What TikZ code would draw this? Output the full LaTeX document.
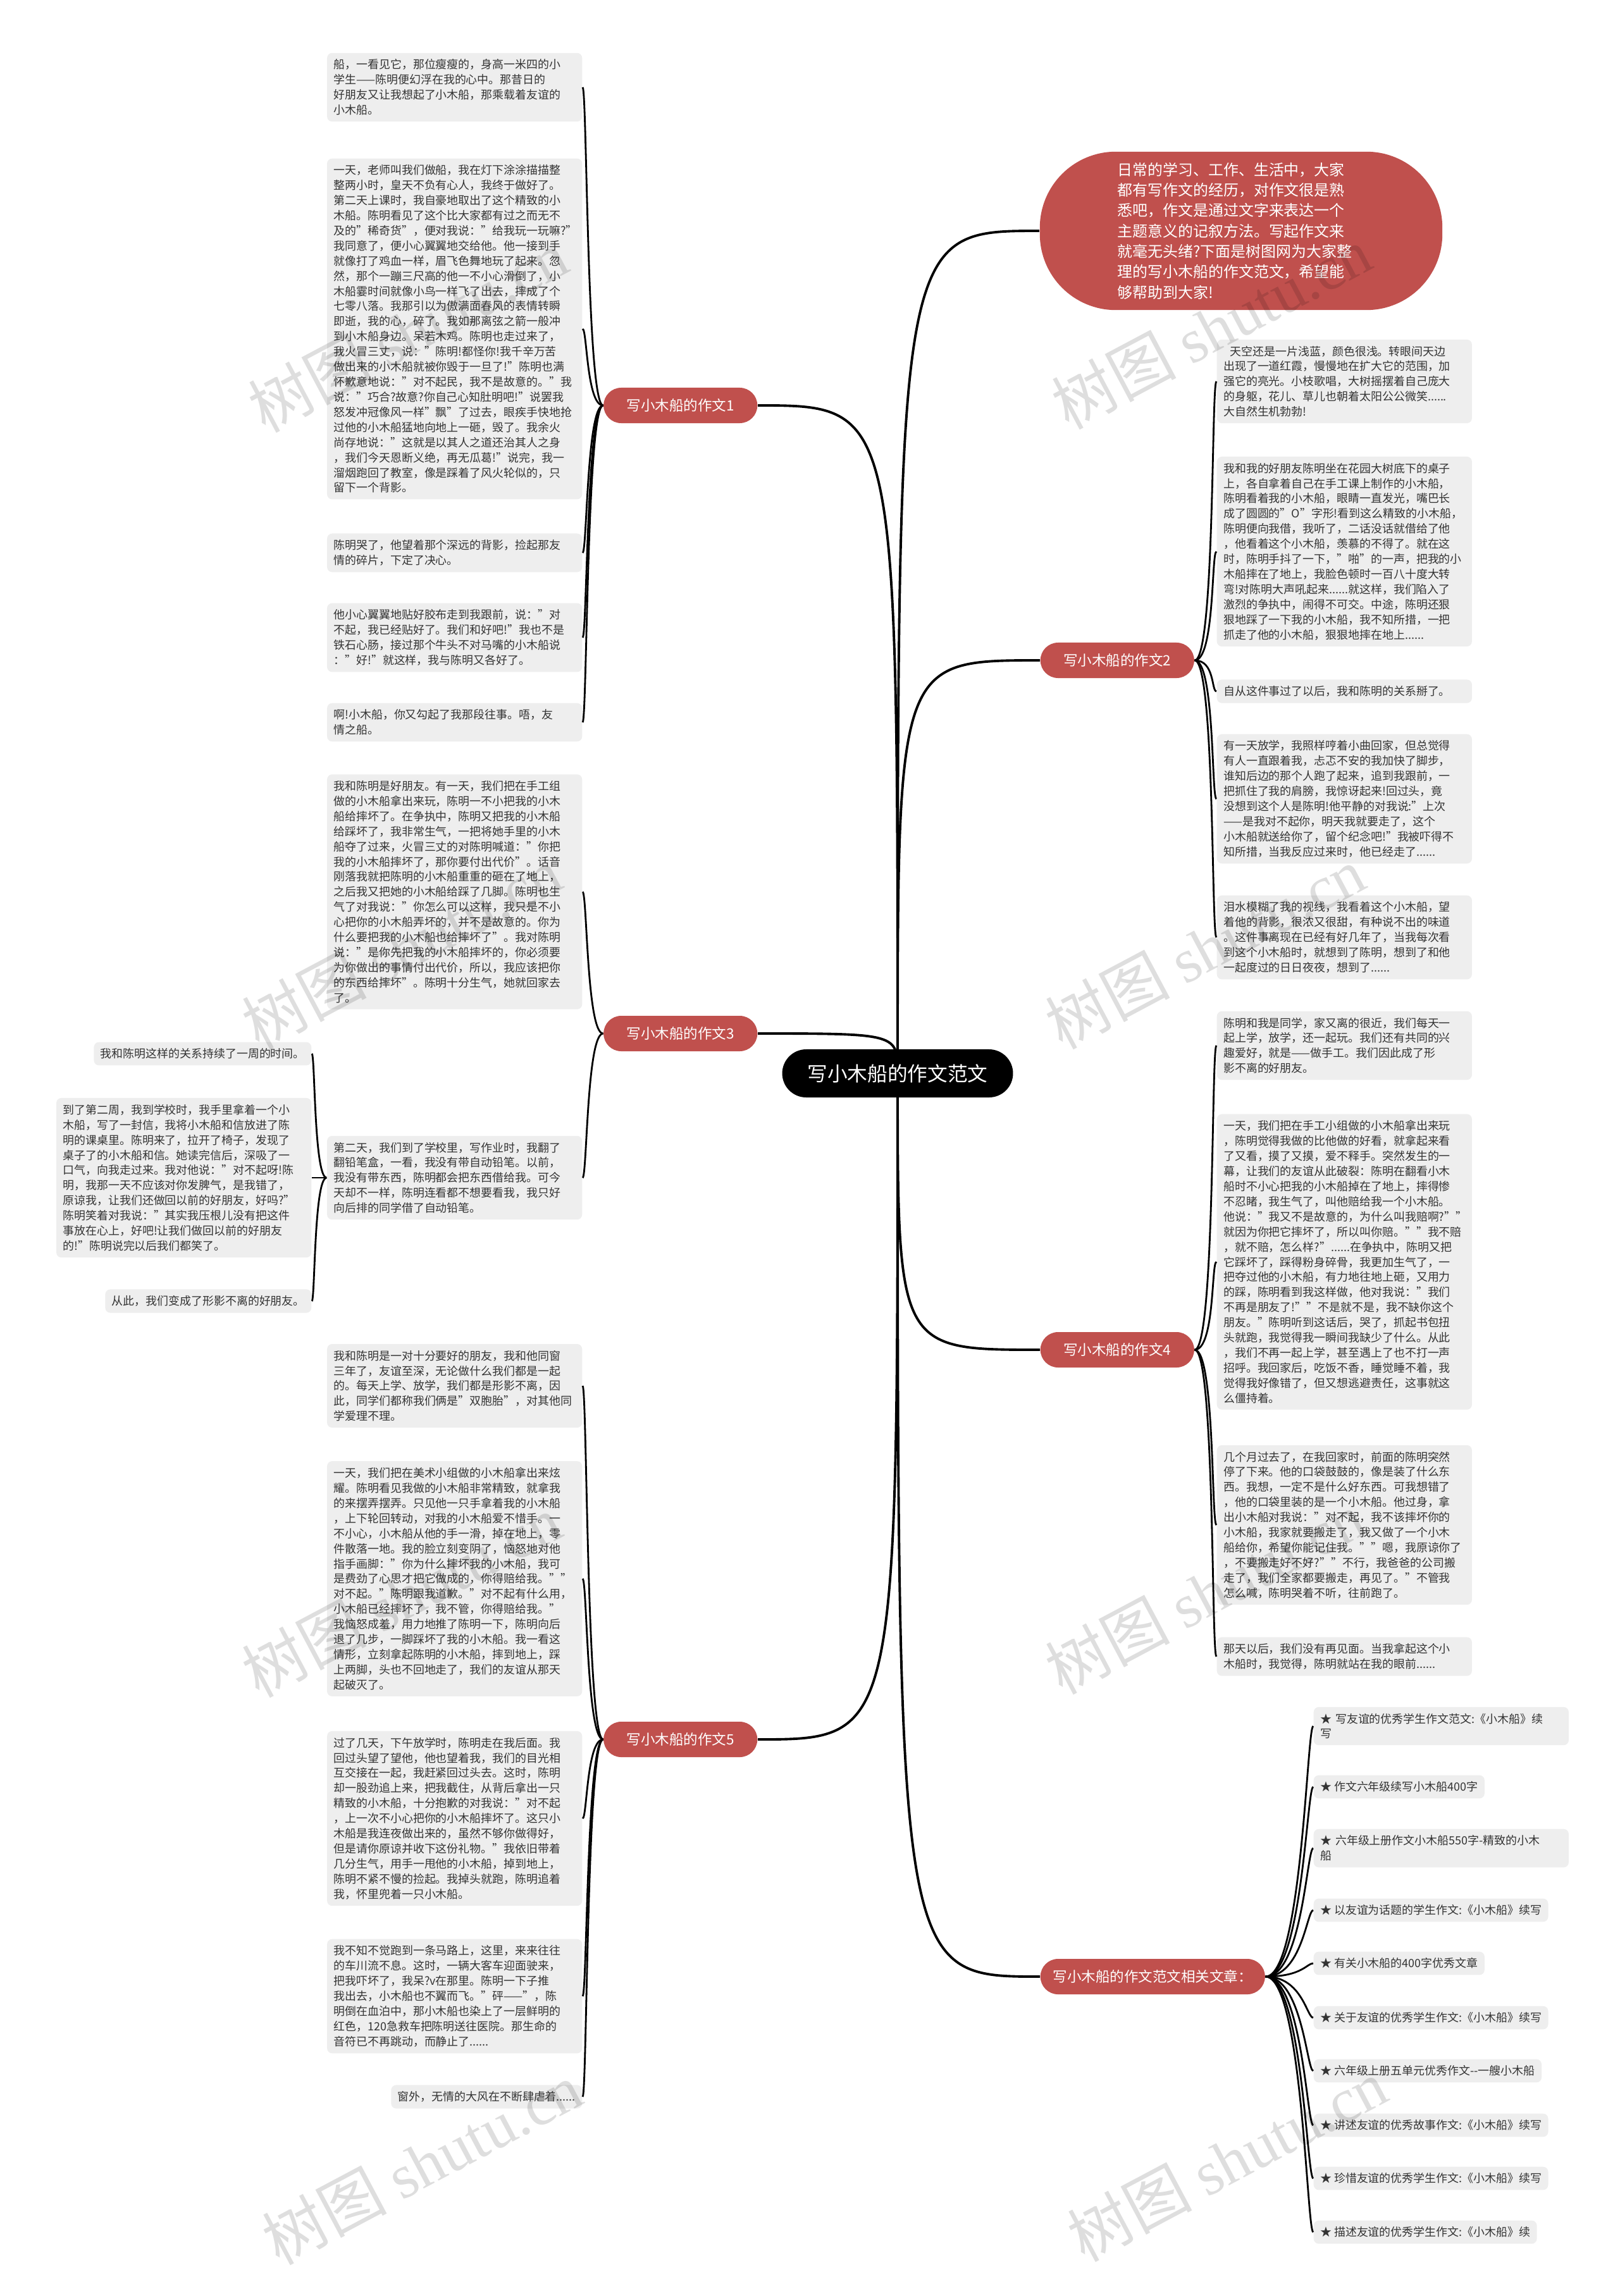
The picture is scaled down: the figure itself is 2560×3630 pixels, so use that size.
\documentclass[tikz,border=0pt]{standalone}
\usepackage{fontspec}
\setmainfont{Noto Sans CJK SC}
\newfontfamily\wmfont{Liberation Serif}
\usetikzlibrary{backgrounds}
\definecolor{topicred}{HTML}{C0504D}
\definecolor{leafgray}{HTML}{EEEEEE}
\definecolor{inkgray}{HTML}{333333}
\setlength{\parindent}{0pt}

\begin{document}
\begin{tikzpicture}[x=0.01cm, y=-0.01cm,
	root/.style={fill=black, text=white, rounded corners=0.38cm, minimum height=0.76cm, inner xsep=0.4cm, font=\fontsize{9pt}{11pt}\selectfont},
	topic/.style={fill=topicred, text=white, rounded corners=0.28cm, minimum height=0.56cm, minimum width=2.43cm, inner xsep=0.2cm, font=\fontsize{6.4pt}{8pt}\selectfont},
	intro/.style={fill=topicred, text=white, rounded corners=1.2cm, text width=3.9cm, align=left, inner xsep=1.23cm, inner ysep=0.17cm, font=\fontsize{6.8pt}{9.2pt}\selectfont},
	leaf/.style={fill=leafgray, text=inkgray, rounded corners=0.08cm, inner xsep=0.105cm, inner ysep=0.1cm, align=left, font=\fontsize{5.1pt}{6.8pt}\selectfont},
	para/.style={leaf, text width=3.82cm},
	trunk/.style={line width=1.1pt},
	twig/.style={line width=0.8pt},
	wmtext/.style={text=black, text opacity=0.13, rotate=28, font=\fontsize{28pt}{30pt}\selectfont}]
	\useasboundingbox (0,0) rectangle (2560,3630);

	\node [root] (root) at (1419,1697) {写小木船的作文范文};
	\node [intro] (intro) at (1962,365) {日常的学习、工作、生活中，大家\\都有写作文的经历，对作文很是熟\\悉吧，作文是通过文字来表达一个\\主题意义的记叙方法。写起作文来\\就毫无头绪?下面是树图网为大家整\\理的写小木船的作文范文，希望能\\够帮助到大家!};
	\node [topic, anchor=east] (e1) at (1198,641) {写小木船的作文1};
	\node [topic, anchor=east] (e3) at (1198,1634) {写小木船的作文3};
	\node [topic, anchor=east] (e5) at (1198,2750) {写小木船的作文5};
	\node [topic, anchor=west] (e2) at (1644,1044) {写小木船的作文2};
	\node [topic, anchor=west] (e4) at (1644,2134) {写小木船的作文4};
	\node [topic, anchor=west] (rel) at (1644,3125) {写小木船的作文范文相关文章：};

	% essay 1
	\node [para, anchor=east] (e1a) at (921,138) {船，一看见它，那位瘦瘦的，身高一米四的小\\学生——陈明便幻浮在我的心中。那昔日的\\好朋友又让我想起了小木船，那乘载着友谊的\\小木船。};
	\node [para, anchor=east] (e1b) at (921,520) {一天，老师叫我们做船，我在灯下涂涂描描整\\整两小时，皇天不负有心人，我终于做好了。\\第二天上课时，我自豪地取出了这个精致的小\\木船。陈明看见了这个比大家都有过之而无不\\及的"稀奇货"，便对我说："给我玩一玩嘛?"\\我同意了，便小心翼翼地交给他。他一接到手\\就像打了鸡血一样，眉飞色舞地玩了起来。忽\\然，那个一蹦三尺高的他一不小心滑倒了，小\\木船霎时间就像小鸟一样飞了出去，摔成了个\\七零八落。我那引以为傲满面春风的表情转瞬\\即逝，我的心，碎了。我如那离弦之箭一般冲\\到小木船身边。呆若木鸡。陈明也走过来了，\\我火冒三丈，说："陈明!都怪你!我千辛万苦\\做出来的小木船就被你毁于一旦了!"陈明也满\\怀歉意地说："对不起民，我不是故意的。"我\\说："巧合?故意?你自己心知肚明吧!"说罢我\\怒发冲冠像风一样"飘"了过去，眼疾手快地抢\\过他的小木船猛地向地上一砸，毁了。我余火\\尚存地说："这就是以其人之道还治其人之身\\，我们今天恩断义绝，再无瓜葛!"说完，我一\\溜烟跑回了教室，像是踩着了风火轮似的，只\\留下一个背影。};
	\node [para, anchor=east] (e1c) at (921,874) {陈明哭了，他望着那个深远的背影，捡起那友\\情的碎片，下定了决心。};
	\node [para, anchor=east] (e1d) at (921,1008) {他小心翼翼地贴好胶布走到我跟前，说："对\\不起，我已经贴好了。我们和好吧!"我也不是\\铁石心肠，接过那个牛头不对马嘴的小木船说\\："好!"就这样，我与陈明又各好了。};
	\node [para, anchor=east] (e1e) at (921,1142) {啊!小木船，你又勾起了我那段往事。唔，友\\情之船。};

	% essay 3
	\node [para, anchor=east] (e3a) at (921,1410) {我和陈明是好朋友。有一天，我们把在手工组\\做的小木船拿出来玩，陈明一不小把我的小木\\船给摔坏了。在争执中，陈明又把我的小木船\\给踩坏了，我非常生气，一把将她手里的小木\\船夺了过来，火冒三丈的对陈明喊道："你把\\我的小木船摔坏了，那你要付出代价"。话音\\刚落我就把陈明的小木船重重的砸在了地上，\\之后我又把她的小木船给踩了几脚。陈明也生\\气了对我说："你怎么可以这样，我只是不小\\心把你的小木船弄坏的，并不是故意的。你为\\什么要把我的小木船也给摔坏了"。我对陈明\\说："是你先把我的小木船摔坏的，你必须要\\为你做出的事情付出代价，所以，我应该把你\\的东西给摔坏"。陈明十分生气，她就回家去\\了。};
	\node [para, anchor=east] (e3b) at (921,1862) {第二天，我们到了学校里，写作业时，我翻了\\翻铅笔盒，一看，我没有带自动铅笔。以前，\\我没有带东西，陈明都会把东西借给我。可今\\天却不一样，陈明连看都不想要看我，我只好\\向后排的同学借了自动铅笔。};
	\node [leaf, anchor=east] (e3b1) at (493,1666) {我和陈明这样的关系持续了一周的时间。};
	\node [para, anchor=east] (e3b2) at (493,1862) {到了第二周，我到学校时，我手里拿着一个小\\木船，写了一封信，我将小木船和信放进了陈\\明的课桌里。陈明来了，拉开了椅子，发现了\\桌子了的小木船和信。她读完信后，深吸了一\\口气，向我走过来。我对他说："对不起呀!陈\\明，我那一天不应该对你发脾气，是我错了，\\原谅我，让我们还做回以前的好朋友，好吗?"\\陈明笑着对我说："其实我压根儿没有把这件\\事放在心上，好吧!让我们做回以前的好朋友\\的!"陈明说完以后我们都笑了。};
	\node [leaf, anchor=east] (e3b3) at (493,2057) {从此，我们变成了形影不离的好朋友。};

	% essay 5
	\node [para, anchor=east] (e5a) at (921,2191) {我和陈明是一对十分要好的朋友，我和他同窗\\三年了，友谊至深，无论做什么我们都是一起\\的。每天上学、放学，我们都是形影不离，因\\此，同学们都称我们俩是"双胞胎"，对其他同\\学爱理不理。};
	\node [para, anchor=east] (e5b) at (921,2496) {一天，我们把在美术小组做的小木船拿出来炫\\耀。陈明看见我做的小木船非常精致，就拿我\\的来摆弄摆弄。只见他一只手拿着我的小木船\\，上下轮回转动，对我的小木船爱不惜手。一\\不小心，小木船从他的手一滑，掉在地上，零\\件散落一地。我的脸立刻变阴了，恼怒地对他\\指手画脚："你为什么摔坏我的小木船，我可\\是费劲了心思才把它做成的，你得赔给我。""\\对不起。"陈明跟我道歉。"对不起有什么用，\\小木船已经摔坏了，我不管，你得赔给我。"\\我恼怒成羞，用力地推了陈明一下，陈明向后\\退了几步，一脚踩坏了我的小木船。我一看这\\情形，立刻拿起陈明的小木船，摔到地上，踩\\上两脚，头也不回地走了，我们的友谊从那天\\起破灭了。};
	\node [para, anchor=east] (e5c) at (921,2875) {过了几天，下午放学时，陈明走在我后面。我\\回过头望了望他，他也望着我，我们的目光相\\互交接在一起，我赶紧回过头去。这时，陈明\\却一股劲追上来，把我截住，从背后拿出一只\\精致的小木船，十分抱歉的对我说："对不起\\，上一次不小心把你的小木船摔坏了。这只小\\木船是我连夜做出来的，虽然不够你做得好，\\但是请你原谅并收下这份礼物。"我依旧带着\\几分生气，用手一甩他的小木船，掉到地上，\\陈明不紧不慢的捡起。我掉头就跑，陈明追着\\我，怀里兜着一只小木船。};
	\node [para, anchor=east] (e5d) at (921,3156) {我不知不觉跑到一条马路上，这里，来来往往\\的车川流不息。这时，一辆大客车迎面驶来，\\把我吓坏了，我呆?v在那里。陈明一下子推\\我出去，小木船也不翼而飞。"砰——"，陈\\明倒在血泊中，那小木船也染上了一层鲜明的\\红色，120急救车把陈明送往医院。那生命的\\音符已不再跳动，而静止了......};
	\node [leaf, anchor=east] (e5e) at (921,3315) {窗外，无情的大风在不断肆虐着......};

	% essay 2
	\node [para, anchor=west] (e2a) at (1923,603) {\hspace*{3pt}天空还是一片浅蓝，颜色很浅。转眼间天边\\出现了一道红霞，慢慢地在扩大它的范围，加\\强它的亮光。小枝歌唱，大树摇摆着自己庞大\\的身躯，花儿、草儿也朝着太阳公公微笑......\\大自然生机勃勃!};
	\node [para, anchor=west] (e2b) at (1923,872) {我和我的好朋友陈明坐在花园大树底下的桌子\\上，各自拿着自己在手工课上制作的小木船，\\陈明看着我的小木船，眼睛一直发光，嘴巴长\\成了圆圆的"O"字形!看到这么精致的小木船，\\陈明便向我借，我听了，二话没话就借给了他\\，他看着这个小木船，羡慕的不得了。就在这\\时，陈明手抖了一下，"啪"的一声，把我的小\\木船摔在了地上，我脸色顿时一百八十度大转\\弯!对陈明大声吼起来......就这样，我们陷入了\\激烈的争执中，闹得不可交。中途，陈明还狠\\狠地踩了一下我的小木船，我不知所措，一把\\抓走了他的小木船，狠狠地摔在地上......};
	\node [para, anchor=west] (e2c) at (1923,1093) {自从这件事过了以后，我和陈明的关系掰了。};
	\node [para, anchor=west] (e2d) at (1923,1263) {有一天放学，我照样哼着小曲回家，但总觉得\\有人一直跟着我，忐忑不安的我加快了脚步，\\谁知后边的那个人跑了起来，追到我跟前，一\\把抓住了我的肩膀，我惊讶起来!回过头，竟\\没想到这个人是陈明!他平静的对我说:"上次\\——是我对不起你，明天我就要走了，这个\\小木船就送给你了，留个纪念吧!"我被吓得不\\知所措，当我反应过来时，他已经走了......};
	\node [para, anchor=west] (e2e) at (1923,1482) {泪水模糊了我的视线，我看着这个小木船，望\\着他的背影，很浓又很甜，有种说不出的味道\\。这件事离现在已经有好几年了，当我每次看\\到这个小木船时，就想到了陈明，想到了和他\\一起度过的日日夜夜，想到了......};

	% essay 4
	\node [para, anchor=west] (e4a) at (1923,1653) {陈明和我是同学，家又离的很近，我们每天一\\起上学，放学，还一起玩。我们还有共同的兴\\趣爱好，就是——做手工。我们因此成了形\\影不离的好朋友。};
	\node [para, anchor=west] (e4b) at (1923,1995) {一天，我们把在手工小组做的小木船拿出来玩\\，陈明觉得我做的比他做的好看，就拿起来看\\了又看，摸了又摸，爱不释手。突然发生的一\\幕，让我们的友谊从此破裂：陈明在翻看小木\\船时不小心把我的小木船掉在了地上，摔得惨\\不忍睹，我生气了，叫他赔给我一个小木船。\\他说："我又不是故意的，为什么叫我赔啊?""\\就因为你把它摔坏了，所以叫你赔。""我不赔\\，就不赔，怎么样?"......在争执中，陈明又把\\它踩坏了，踩得粉身碎骨，我更加生气了，一\\把夺过他的小木船，有力地往地上砸，又用力\\的踩，陈明看到我这样做，他对我说："我们\\不再是朋友了!""不是就不是，我不缺你这个\\朋友。"陈明听到这话后，哭了，抓起书包扭\\头就跑，我觉得我一瞬间我缺少了什么。从此\\，我们不再一起上学，甚至遇上了也不打一声\\招呼。我回家后，吃饭不香，睡觉睡不着，我\\觉得我好像错了，但又想逃避责任，这事就这\\么僵持着。};
	\node [para, anchor=west] (e4c) at (1923,2411) {几个月过去了，在我回家时，前面的陈明突然\\停了下来。他的口袋鼓鼓的，像是装了什么东\\西。我想，一定不是什么好东西。可我想错了\\，他的口袋里装的是一个小木船。他过身，拿\\出小木船对我说："对不起，我不该摔坏你的\\小木船，我家就要搬走了，我又做了一个小木\\船给你，希望你能记住我。""嗯，我原谅你了\\，不要搬走好不好?""不行，我爸爸的公司搬\\走了，我们全家都要搬走，再见了。"不管我\\怎么喊，陈明哭着不听，往前跑了。};
	\node [para, anchor=west] (e4d) at (1923,2619) {那天以后，我们没有再见面。当我拿起这个小\\木船时，我觉得，陈明就站在我的眼前......};

	% related articles
	\node [para, anchor=west] (r1) at (2076,2729) {★ 写友谊的优秀学生作文范文:《小木船》续\\写};
	\node [leaf, anchor=west] (r2) at (2076,2825) {★ 作文六年级续写小木船400字};
	\node [para, anchor=west] (r3) at (2076,2922) {★ 六年级上册作文小木船550字-精致的小木\\船};
	\node [leaf, anchor=west] (r4) at (2076,3020) {★ 以友谊为话题的学生作文:《小木船》续写};
	\node [leaf, anchor=west] (r5) at (2076,3104) {★ 有关小木船的400字优秀文章};
	\node [leaf, anchor=west] (r6) at (2076,3190) {★ 关于友谊的优秀学生作文:《小木船》续写};
	\node [leaf, anchor=west] (r7) at (2076,3274) {★ 六年级上册五单元优秀作文-{}-一艘小木船};
	\node [leaf, anchor=west] (r8) at (2076,3360) {★ 讲述友谊的优秀故事作文:《小木船》续写};
	\node [leaf, anchor=west] (r9) at (2076,3444) {★ 珍惜友谊的优秀学生作文:《小木船》续写};
	\node [leaf, anchor=west] (r10) at (2076,3529) {★ 描述友谊的优秀学生作文:《小木船》续};

	\begin{scope}[on background layer]
		\draw[trunk] (root.center) .. controls (root.center |- intro.west) .. (intro.west);
		\draw[trunk] (root.center) .. controls (root.center |- e1.east) .. (e1.east);
		\draw[trunk] (root.center) .. controls (root.center |- e3.east) .. (e3.east);
		\draw[trunk] (root.center) .. controls (root.center |- e5.east) .. (e5.east);
		\draw[trunk] (root.center) .. controls (root.center |- e2.west) .. (e2.west);
		\draw[trunk] (root.center) .. controls (root.center |- e4.west) .. (e4.west);
		\draw[trunk] (root.center) .. controls (root.center |- rel.west) .. (rel.west);
	\end{scope}

	\draw[twig] (e1.west) .. controls +(-26,0) and +(7,0) .. (e1a.east);
	\draw[twig] (e1.west) .. controls +(-26,0) and +(7,0) .. (e1b.east);
	\draw[twig] (e1.west) .. controls +(-26,0) and +(7,0) .. (e1c.east);
	\draw[twig] (e1.west) .. controls +(-26,0) and +(7,0) .. (e1d.east);
	\draw[twig] (e1.west) .. controls +(-26,0) and +(7,0) .. (e1e.east);
	\draw[twig] (e3.west) .. controls +(-26,0) and +(7,0) .. (e3a.east);
	\draw[twig] (e3.west) .. controls +(-26,0) and +(7,0) .. (e3b.east);
	\draw[twig] (e3b.west) .. controls +(-20,0) and +(5,0) .. (e3b1.east);
	\draw[twig] (e3b.west) -- (e3b2.east);
	\draw[twig] (e3b.west) .. controls +(-20,0) and +(5,0) .. (e3b3.east);
	\draw[twig] (e5.west) .. controls +(-26,0) and +(7,0) .. (e5a.east);
	\draw[twig] (e5.west) .. controls +(-26,0) and +(7,0) .. (e5b.east);
	\draw[twig] (e5.west) .. controls +(-26,0) and +(7,0) .. (e5c.east);
	\draw[twig] (e5.west) .. controls +(-26,0) and +(7,0) .. (e5d.east);
	\draw[twig] (e5.west) .. controls +(-26,0) and +(7,0) .. (e5e.east);
	\draw[twig] (e2.east) .. controls +(32,0) and +(-8,0) .. (e2a.west);
	\draw[twig] (e2.east) .. controls +(32,0) and +(-8,0) .. (e2b.west);
	\draw[twig] (e2.east) .. controls +(32,0) and +(-8,0) .. (e2c.west);
	\draw[twig] (e2.east) .. controls +(32,0) and +(-8,0) .. (e2d.west);
	\draw[twig] (e2.east) .. controls +(32,0) and +(-8,0) .. (e2e.west);
	\draw[twig] (e4.east) .. controls +(32,0) and +(-8,0) .. (e4a.west);
	\draw[twig] (e4.east) .. controls +(32,0) and +(-8,0) .. (e4b.west);
	\draw[twig] (e4.east) .. controls +(32,0) and +(-8,0) .. (e4c.west);
	\draw[twig] (e4.east) .. controls +(32,0) and +(-8,0) .. (e4d.west);
	\draw[twig] (rel.east) .. controls +(58,0) and +(-10,0) .. (r1.west);
	\draw[twig] (rel.east) .. controls +(58,0) and +(-10,0) .. (r2.west);
	\draw[twig] (rel.east) .. controls +(58,0) and +(-10,0) .. (r3.west);
	\draw[twig] (rel.east) .. controls +(58,0) and +(-10,0) .. (r4.west);
	\draw[twig] (rel.east) .. controls +(58,0) and +(-10,0) .. (r5.west);
	\draw[twig] (rel.east) .. controls +(58,0) and +(-10,0) .. (r6.west);
	\draw[twig] (rel.east) .. controls +(58,0) and +(-10,0) .. (r7.west);
	\draw[twig] (rel.east) .. controls +(58,0) and +(-10,0) .. (r8.west);
	\draw[twig] (rel.east) .. controls +(58,0) and +(-10,0) .. (r9.west);
	\draw[twig] (rel.east) .. controls +(58,0) and +(-10,0) .. (r10.west);

	% watermark
	\node [wmtext] (wm1) at (645,523) {树图 {\wmfont shutu.cn}};
	\node [wmtext] (wm2) at (1915,518) {树图 {\wmfont shutu.cn}};
	\node [wmtext] (wm3) at (635,1498) {树图 {\wmfont shutu.cn}};
	\node [wmtext] (wm4) at (1905,1498) {树图 {\wmfont shutu.cn}};
	\node [wmtext] (wm5) at (635,2523) {树图 {\wmfont shutu.cn}};
	\node [wmtext] (wm6) at (1905,2518) {树图 {\wmfont shutu.cn}};
	\node [wmtext] (wm7) at (667,3420) {树图 {\wmfont shutu.cn}};
	\node [wmtext] (wm8) at (1940,3415) {树图 {\wmfont shutu.cn}};
\end{tikzpicture}
\end{document}
